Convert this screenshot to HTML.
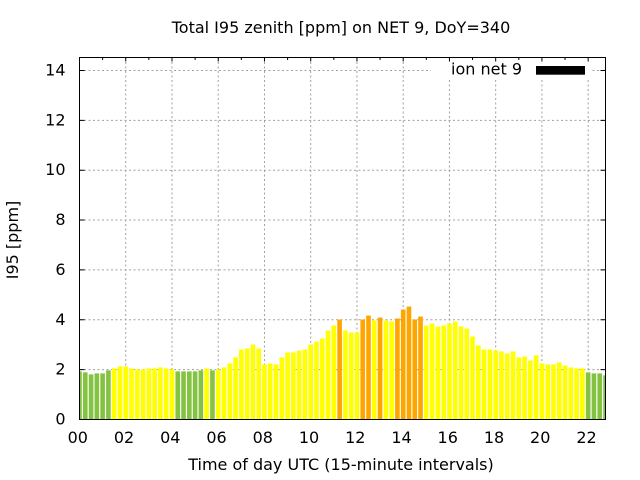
<!DOCTYPE html>
<html>
<head>
<meta charset="utf-8">
<style>
html,body{margin:0;padding:0;background:#fff;}
svg{display:block;}
text{font-family:"DejaVu Sans","Liberation Sans",sans-serif;font-size:16px;fill:#000;}
</style>
</head>
<body>
<svg width="640" height="480" viewBox="0 0 640 480" xmlns="http://www.w3.org/2000/svg">
<defs>
<clipPath id="c"><rect x="80" y="58" width="525" height="361"/></clipPath>
</defs>
<rect x="0" y="0" width="640" height="480" fill="#fff"/>
<g stroke="#a0a0a0" stroke-width="1" stroke-dasharray="2,2.5" fill="none">
<path d="M79.5 369.64H605.5M79.5 319.78H605.5M79.5 269.92H605.5M79.5 220.06H605.5M79.5 170.2H605.5M79.5 120.34H605.5M79.5 70.48H605.5"/>
<path d="M125.74 57.5V419.5M171.98 57.5V419.5M218.23 57.5V419.5M264.47 57.5V419.5M310.71 57.5V419.5M356.95 57.5V419.5M403.19 57.5V419.5M449.43 57.5V419.5M495.68 57.5V419.5M541.92 57.5V419.5M588.16 57.5V419.5"/>
</g>
<rect x="431" y="58" width="161" height="22" fill="#fff"/>
<g stroke="#000" stroke-width="1" fill="none">
<path d="M79.5 419.5h5M79.5 369.64h5M79.5 319.78h5M79.5 269.92h5M79.5 220.06h5M79.5 170.2h5M79.5 120.34h5M79.5 70.48h5"/>
<path d="M605.5 419.5h-5M605.5 369.64h-5M605.5 319.78h-5M605.5 269.92h-5M605.5 220.06h-5M605.5 170.2h-5M605.5 120.34h-5M605.5 70.48h-5"/>
<path d="M102.62 419.5v-2.5M125.74 419.5v-4M148.86 419.5v-2.5M171.98 419.5v-4M195.1 419.5v-2.5M218.23 419.5v-4M241.35 419.5v-2.5M264.47 419.5v-4M287.59 419.5v-2.5M310.71 419.5v-4M333.83 419.5v-2.5M356.95 419.5v-4M380.07 419.5v-2.5M403.19 419.5v-4M426.31 419.5v-2.5M449.43 419.5v-4M472.56 419.5v-2.5M495.68 419.5v-4M518.8 419.5v-2.5M541.92 419.5v-4M565.04 419.5v-2.5M588.16 419.5v-4"/>
<path d="M102.62 57.5v2.5M125.74 57.5v4M148.86 57.5v2.5M171.98 57.5v4M195.1 57.5v2.5M218.23 57.5v4M241.35 57.5v2.5M264.47 57.5v4M287.59 57.5v2.5M310.71 57.5v4M333.83 57.5v2.5M356.95 57.5v4M380.07 57.5v2.5M403.19 57.5v4M426.31 57.5v2.5M449.43 57.5v4M472.56 57.5v2.5M495.68 57.5v4M518.8 57.5v2.5M541.92 57.5v4M565.04 57.5v2.5M588.16 57.5v4"/>
</g>
<g clip-path="url(#c)">
<g transform="translate(79.5,419.5) scale(5.78022,-24.93)">
<g fill="#84c341">
<rect x="-0.4" y="0" width="0.8" height="1.93"/>
<rect x="0.6" y="0" width="0.8" height="1.89"/>
<rect x="1.6" y="0" width="0.8" height="1.81"/>
<rect x="2.6" y="0" width="0.8" height="1.85"/>
<rect x="3.6" y="0" width="0.8" height="1.85"/>
<rect x="4.6" y="0" width="0.8" height="1.97"/>
<rect x="16.6" y="0" width="0.8" height="1.93"/>
<rect x="17.6" y="0" width="0.8" height="1.93"/>
<rect x="18.6" y="0" width="0.8" height="1.93"/>
<rect x="19.6" y="0" width="0.8" height="1.93"/>
<rect x="20.6" y="0" width="0.8" height="1.97"/>
<rect x="22.6" y="0" width="0.8" height="1.97"/>
<rect x="87.6" y="0" width="0.8" height="1.89"/>
<rect x="88.6" y="0" width="0.8" height="1.85"/>
<rect x="89.6" y="0" width="0.8" height="1.85"/>
<rect x="90.6" y="0" width="0.8" height="1.77"/>
</g>
<g fill="#ffff00">
<rect x="5.6" y="0" width="0.8" height="2.05"/>
<rect x="6.6" y="0" width="0.8" height="2.13"/>
<rect x="7.6" y="0" width="0.8" height="2.13"/>
<rect x="8.6" y="0" width="0.8" height="2.05"/>
<rect x="9.6" y="0" width="0.8" height="2.01"/>
<rect x="10.6" y="0" width="0.8" height="2.01"/>
<rect x="11.6" y="0" width="0.8" height="2.05"/>
<rect x="12.6" y="0" width="0.8" height="2.05"/>
<rect x="13.6" y="0" width="0.8" height="2.09"/>
<rect x="14.6" y="0" width="0.8" height="2.05"/>
<rect x="15.6" y="0" width="0.8" height="2.01"/>
<rect x="21.6" y="0" width="0.8" height="2.05"/>
<rect x="23.6" y="0" width="0.8" height="2.01"/>
<rect x="24.6" y="0" width="0.8" height="2.09"/>
<rect x="25.6" y="0" width="0.8" height="2.25"/>
<rect x="26.6" y="0" width="0.8" height="2.49"/>
<rect x="27.6" y="0" width="0.8" height="2.81"/>
<rect x="28.6" y="0" width="0.8" height="2.85"/>
<rect x="29.6" y="0" width="0.8" height="3.01"/>
<rect x="30.6" y="0" width="0.8" height="2.85"/>
<rect x="31.6" y="0" width="0.8" height="2.21"/>
<rect x="32.6" y="0" width="0.8" height="2.25"/>
<rect x="33.6" y="0" width="0.8" height="2.21"/>
<rect x="34.6" y="0" width="0.8" height="2.49"/>
<rect x="35.6" y="0" width="0.8" height="2.69"/>
<rect x="36.6" y="0" width="0.8" height="2.69"/>
<rect x="37.6" y="0" width="0.8" height="2.77"/>
<rect x="38.6" y="0" width="0.8" height="2.81"/>
<rect x="39.6" y="0" width="0.8" height="3.01"/>
<rect x="40.6" y="0" width="0.8" height="3.13"/>
<rect x="41.6" y="0" width="0.8" height="3.25"/>
<rect x="42.6" y="0" width="0.8" height="3.57"/>
<rect x="43.6" y="0" width="0.8" height="3.77"/>
<rect x="45.6" y="0" width="0.8" height="3.57"/>
<rect x="46.6" y="0" width="0.8" height="3.49"/>
<rect x="47.6" y="0" width="0.8" height="3.49"/>
<rect x="50.6" y="0" width="0.8" height="3.97"/>
<rect x="52.6" y="0" width="0.8" height="3.97"/>
<rect x="53.6" y="0" width="0.8" height="3.93"/>
<rect x="59.6" y="0" width="0.8" height="3.77"/>
<rect x="60.6" y="0" width="0.8" height="3.85"/>
<rect x="61.6" y="0" width="0.8" height="3.73"/>
<rect x="62.6" y="0" width="0.8" height="3.77"/>
<rect x="63.6" y="0" width="0.8" height="3.85"/>
<rect x="64.6" y="0" width="0.8" height="3.93"/>
<rect x="65.6" y="0" width="0.8" height="3.73"/>
<rect x="66.6" y="0" width="0.8" height="3.65"/>
<rect x="67.6" y="0" width="0.8" height="3.33"/>
<rect x="68.6" y="0" width="0.8" height="2.97"/>
<rect x="69.6" y="0" width="0.8" height="2.81"/>
<rect x="70.6" y="0" width="0.8" height="2.81"/>
<rect x="71.6" y="0" width="0.8" height="2.77"/>
<rect x="72.6" y="0" width="0.8" height="2.73"/>
<rect x="73.6" y="0" width="0.8" height="2.65"/>
<rect x="74.6" y="0" width="0.8" height="2.73"/>
<rect x="75.6" y="0" width="0.8" height="2.49"/>
<rect x="76.6" y="0" width="0.8" height="2.53"/>
<rect x="77.6" y="0" width="0.8" height="2.37"/>
<rect x="78.6" y="0" width="0.8" height="2.57"/>
<rect x="79.6" y="0" width="0.8" height="2.25"/>
<rect x="80.6" y="0" width="0.8" height="2.21"/>
<rect x="81.6" y="0" width="0.8" height="2.21"/>
<rect x="82.6" y="0" width="0.8" height="2.29"/>
<rect x="83.6" y="0" width="0.8" height="2.17"/>
<rect x="84.6" y="0" width="0.8" height="2.09"/>
<rect x="85.6" y="0" width="0.8" height="2.05"/>
<rect x="86.6" y="0" width="0.8" height="2.05"/>
</g>
<g fill="#ffa500">
<rect x="44.6" y="0" width="0.8" height="4.01"/>
<rect x="48.6" y="0" width="0.8" height="4.01"/>
<rect x="49.6" y="0" width="0.8" height="4.17"/>
<rect x="51.6" y="0" width="0.8" height="4.09"/>
<rect x="54.6" y="0" width="0.8" height="4.05"/>
<rect x="55.6" y="0" width="0.8" height="4.41"/>
<rect x="56.6" y="0" width="0.8" height="4.53"/>
<rect x="57.6" y="0" width="0.8" height="4.01"/>
<rect x="58.6" y="0" width="0.8" height="4.13"/>
</g>
</g>
</g>
<text x="522" y="74.5" text-anchor="end">ion net 9</text>
<rect x="536" y="66" width="49" height="8.7" fill="#000"/>
<rect x="79.5" y="57.5" width="526" height="362" fill="none" stroke="#000" stroke-width="1"/>
<g text-anchor="end">
<text x="65.5" y="424.5">0</text>
<text x="65.5" y="374.6">2</text>
<text x="65.5" y="324.8">4</text>
<text x="65.5" y="274.9">6</text>
<text x="65.5" y="225.1">8</text>
<text x="65.5" y="175.2">10</text>
<text x="65.5" y="125.3">12</text>
<text x="65.5" y="75.5">14</text>
</g>
<g text-anchor="middle">
<text x="77.8" y="443">00</text>
<text x="124.0" y="443">02</text>
<text x="170.3" y="443">04</text>
<text x="216.5" y="443">06</text>
<text x="262.8" y="443">08</text>
<text x="309.0" y="443">10</text>
<text x="355.3" y="443">12</text>
<text x="401.5" y="443">14</text>
<text x="447.7" y="443">16</text>
<text x="494.0" y="443">18</text>
<text x="540.2" y="443">20</text>
<text x="586.5" y="443">22</text>
</g>
<text x="341" y="33" text-anchor="middle">Total I95 zenith [ppm] on NET 9, DoY=340</text>
<text x="341" y="470" text-anchor="middle">Time of day UTC (15-minute intervals)</text>
<text transform="translate(18,240) rotate(-90)" text-anchor="middle">I95 [ppm]</text>
</svg>
</body>
</html>
